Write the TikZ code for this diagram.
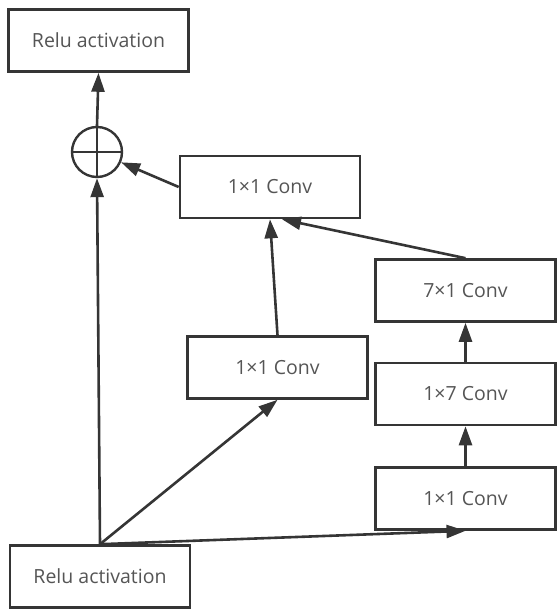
\documentclass[tikz,border=0pt]{standalone}
\usepackage{fontspec}
\setmainfont{Open Sans}
\usetikzlibrary{arrows.meta,positioning,calc}
\definecolor{linegray}{HTML}{353535}
\definecolor{textgray}{HTML}{555555}
\tikzset{%
    conv_block/.style={%
        rectangle, draw=linegray, line width=2.6pt, minimum width=180pt, minimum height=62pt, text centered, text=textgray, font=\fontsize{19.5}{23}\selectfont, inner sep=0pt
    },
    sum_node/.style={%
        circle, draw=linegray, line width=2.4pt, minimum size=50pt, inner sep=0pt
    },
    flow/.style={%
        -{Triangle[length=19pt,width=13pt]}, draw=linegray, line width=2.6pt
    },
}

\begin{document}
\begin{tikzpicture}[x=1pt,y=-1pt]
    \useasboundingbox (0,0) rectangle (557,609);

    \node[conv_block] (relu_out) at (98.5,40.5) {Relu activation};
    \node[sum_node] (sum) at (97,152) {};
    \draw[linegray, line width=2.4pt] (sum.north) -- (sum.south) (sum.west) -- (sum.east);

    \node[conv_block] (conv_a) at (270,187) {1×1 Conv};
    \node[conv_block] (conv_b) at (277.5,367.5) {1×1 Conv};
    \node[conv_block] (conv_d) at (465.5,290.5) {7×1 Conv};
    \node[conv_block] (conv_c2) at (465.5,394) {1×7 Conv};
    \node[conv_block] (conv_c1) at (465.5,498.5) {1×1 Conv};
    \node[conv_block] (relu_in) at (100,576.5) {Relu activation};

    \draw[flow] (relu_in.north) -- (sum.south);
    \draw[flow] (sum.north) -- (relu_out.south);
    \draw[flow] (conv_a.west) -- (sum);
    \draw[flow] (relu_in.north) -- (conv_b.south);
    \draw[flow] (relu_in.north) -- (conv_c1.south);
    \draw[flow] (conv_b.north) -- (conv_a.south);
    \draw[flow] (conv_d.north) -- ([xshift=12pt]conv_a.south);
    \draw[flow] (conv_c2.north) -- (conv_d.south);
    \draw[flow] (conv_c1.north) -- (conv_c2.south);

\end{tikzpicture}
\end{document}
